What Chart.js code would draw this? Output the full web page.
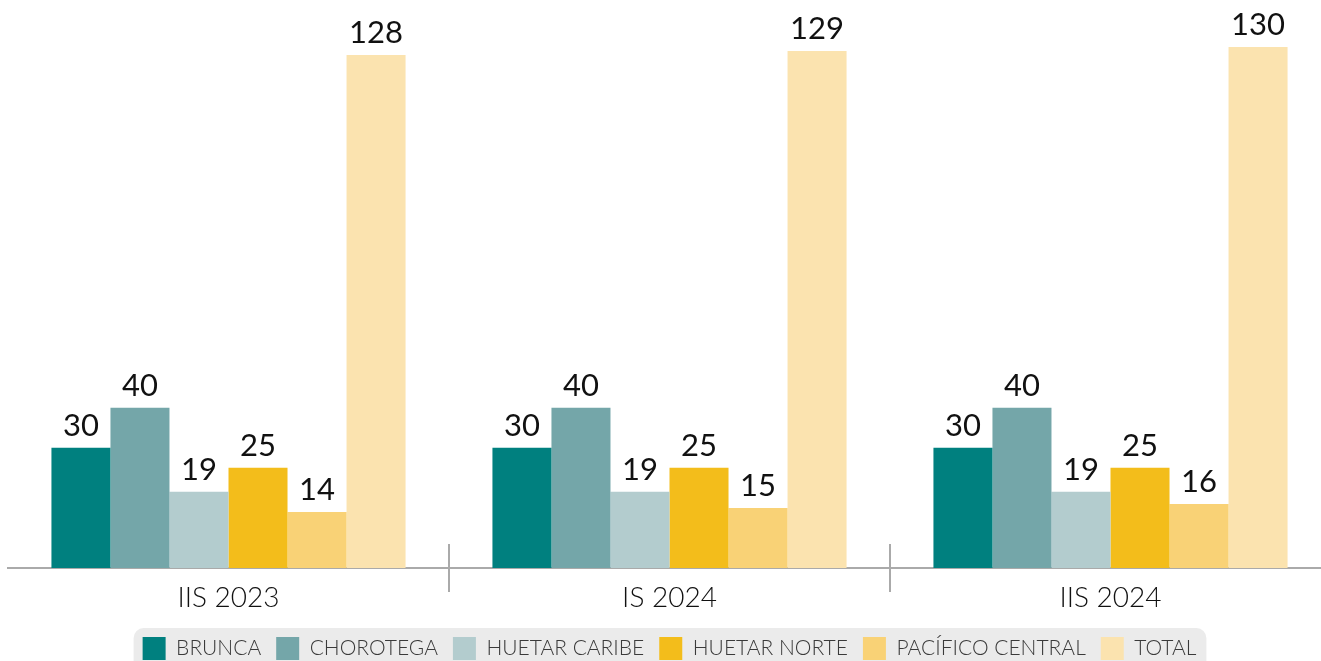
<!DOCTYPE html>
<html>
<head>
<meta charset="utf-8">
<script src="https://cdn.jsdelivr.net/npm/chart.js@4"></script>
<style>
html,body{margin:0;padding:0;background:#fff;overflow:hidden;}
#wrap{width:1334px;height:661px;}
</style>
</head>
<body>
<div id="wrap"><canvas id="c" width="1334" height="661"></canvas></div>
<script>
const categories = ["IIS 2023", "IS 2024", "IIS 2024"];
const seriesNames = ["BRUNCA", "CHOROTEGA", "HUETAR CARIBE", "HUETAR NORTE", "PACÍFICO CENTRAL", "TOTAL"];
const brunca = [30, 30, 30];
const chorotega = [40, 40, 40];
const huetarCaribe = [19, 19, 19];
const huetarNorte = [25, 25, 25];
const pacificoCentral = [14, 15, 16];
const total = [128, 129, 130];
const seriesValues = [brunca, chorotega, huetarCaribe, huetarNorte, pacificoCentral, total];
const seriesColors = ["#00807F", "#74A6A9", "#B3CCCE", "#F3BD1B", "#F9D276", "#FBE3AF"];

const valueLabels = {
  id: "valueLabels",
  afterDatasetsDraw(chart) {
    const ctx = chart.ctx;
    ctx.save();
    ctx.font = "31px Lato";
    ctx.fillStyle = "#111";
    ctx.textAlign = "center";
    ctx.textBaseline = "alphabetic";
    chart.data.datasets.forEach((ds, i) => {
      const meta = chart.getDatasetMeta(i);
      meta.data.forEach((el, j) => {
        ctx.fillText(String(ds.data[j]), el.x, el.y - 12);
      });
    });
    ctx.restore();
  }
};

const groupTicks = {
  id: "groupTicks",
  afterDraw(chart) {
    const xs = chart.scales.x;
    const ctx = chart.ctx;
    const base = chart.chartArea.bottom;
    ctx.save();
    ctx.strokeStyle = "#aaaaaa";
    ctx.lineWidth = 2;
    for (let i = 1; i < categories.length; i++) {
      const x = Math.round((xs.getPixelForValue(i - 1) + xs.getPixelForValue(i)) / 2);
      ctx.beginPath();
      ctx.moveTo(x, base - 24);
      ctx.lineTo(x, base + 24);
      ctx.stroke();
    }
    ctx.restore();
  }
};

const legendBg = {
  id: "legendBg",
  beforeDraw(chart) {
    const ctx = chart.ctx;
    const lg = chart.legend;
    if (!lg || !lg.legendHitBoxes || !lg.legendHitBoxes.length) return;
    const hb = lg.legendHitBoxes;
    const x0 = hb[0].left - 9;
    const x1 = hb[hb.length - 1].left + hb[hb.length - 1].width + 10;
    const y0 = hb[0].top - 9;
    ctx.save();
    ctx.fillStyle = "#ebebeb";
    ctx.beginPath();
    ctx.roundRect(x0, y0, x1 - x0, 80, 10);
    ctx.fill();
    ctx.restore();
  }
};

new Chart(document.getElementById("c"), {
  type: "bar",
  data: {
    labels: categories,
    datasets: seriesNames.map((n, i) => ({
      label: n,
      data: seriesValues[i],
      backgroundColor: seriesColors[i],
      borderWidth: 0,
      barPercentage: 1.0,
      categoryPercentage: 0.803
    }))
  },
  options: {
    responsive: false,
    animation: false,
    layout: { padding: { left: 8, right: 3, top: 11, bottom: -9 } },
    scales: {
      x: {
        grid: { display: false },
        border: { display: true, color: "#aaaaaa", width: 2 },
        ticks: { font: { family: "Lato", size: 28, weight: 300 }, color: "#111", padding: 5 },
        afterFit(s) { s.height = 54; }
      },
      y: {
        display: false,
        min: 0,
        max: 139
      }
    },
    plugins: {
      legend: {
        position: "bottom",
        labels: {
          boxWidth: 23,
          boxHeight: 23,
          padding: 15,
          color: "#3a3a3a",
          font: { family: "Lato", size: 21, weight: 300 }
        }
      },
      tooltip: { enabled: false }
    }
  },
  plugins: [valueLabels, groupTicks, legendBg]
});
</script>
</body>
</html>
